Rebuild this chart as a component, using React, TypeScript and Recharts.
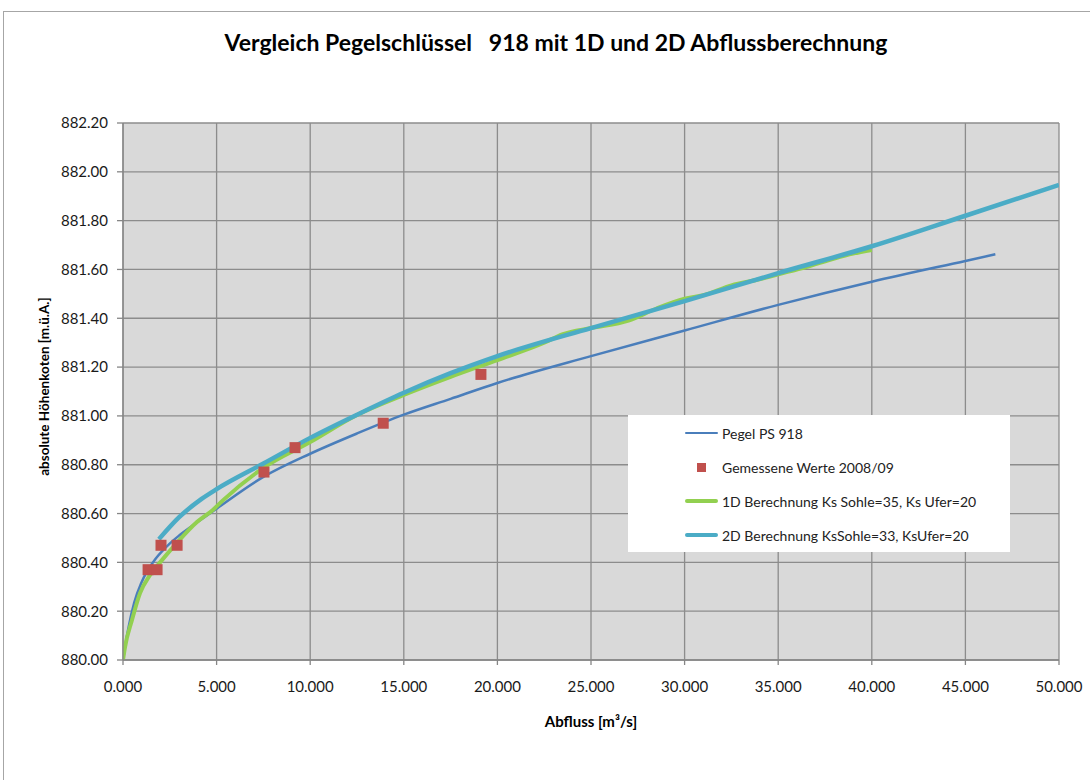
import React from 'react';
import {
  ComposedChart,
  Line,
  Scatter,
  XAxis,
  YAxis,
  CartesianGrid,
  Legend,
} from 'recharts';

// Pegel PS 918 (Abfluss in m³/s, Höhe in m ü. A.)
const pegelQ = [0, 100, 300, 600, 1000, 1600, 2400, 3000, 3700, 5000, 7500, 10000, 12500, 15000, 17500, 20000, 25000, 30000, 35000, 40000, 45000, 46600];
const pegelH = [880.0, 880.05, 880.135, 880.235, 880.32, 880.4, 880.47, 880.51, 880.55, 880.62, 880.75, 880.845, 880.928, 881.005, 881.07, 881.135, 881.245, 881.35, 881.455, 881.55, 881.635, 881.662];

// Gemessene Werte 2008/09
const messQ = [1340, 1820, 2030, 2890, 7530, 9190, 13900, 19120];
const messH = [880.37, 880.37, 880.47, 880.47, 880.77, 880.87, 880.97, 881.17];

// 1D Berechnung
const oneDQ = [0, 100, 480, 910, 1440, 1980, 2880, 3950, 4800, 5350, 7500, 10000, 12500, 15000, 17500, 20000, 22500, 23500, 25000, 27000, 28500, 30000, 31000, 32500, 34000, 35000, 36500, 38000, 39000, 40000];
const oneDH = [880.0, 880.05, 880.164, 880.274, 880.348, 880.4, 880.48, 880.565, 880.615, 880.655, 880.787, 880.893, 881.004, 881.086, 881.16, 881.229, 881.3, 881.335, 881.36, 881.39, 881.44, 881.48, 881.495, 881.535, 881.56, 881.58, 881.61, 881.645, 881.665, 881.68];

// 2D Berechnung
const twoDQ = [1920, 3000, 4200, 5000, 7500, 10000, 12500, 15000, 17500, 20000, 25000, 30000, 35000, 40000, 45000, 50000];
const twoDH = [880.495, 880.585, 880.66, 880.7, 880.805, 880.91, 881.005, 881.095, 881.175, 881.245, 881.36, 881.47, 881.585, 881.695, 881.82, 881.946];

const xTicks = [0, 5000, 10000, 15000, 20000, 25000, 30000, 35000, 40000, 45000, 50000];
const yTicks = [880.0, 880.2, 880.4, 880.6, 880.8, 881.0, 881.2, 881.4, 881.6, 881.8, 882.0, 882.2];

const seriesNames = [
  'Pegel PS 918',
  'Gemessene Werte 2008/09',
  '1D Berechnung Ks Sohle=35, Ks Ufer=20',
  '2D Berechnung KsSohle=33, KsUfer=20',
];
const seriesColors = ['#4a7ebb', '#c0504d', '#92d050', '#4bacc6'];

const toRows = (qs: number[], hs: number[]) => qs.map((q, i) => ({ q, h: hs[i] }));

const pegelData = toRows(pegelQ, pegelH);
const messData = toRows(messQ, messH);
const oneDData = toRows(oneDQ, oneDH);
const twoDData = toRows(twoDQ, twoDH);

const FONT = 'Lato, "Open Sans", sans-serif';
const tickStyle = { fontSize: 15, fill: '#1a1a1a', fontFamily: FONT };

const SquareDot = (props: any) => {
  const { cx, cy } = props;
  if (cx == null || cy == null) return null;
  return <rect x={cx - 5.5} y={cy - 5.5} width={11} height={11} fill="#c0504d" />;
};

const legendWidths = [2.5, 0, 4, 4.5];

function LegendBox() {
  return (
    <div
      style={{
        width: 382,
        height: 137,
        background: '#fff',
        fontFamily: FONT,
        fontSize: 14,
        color: '#222',
        paddingTop: 1,
        boxSizing: 'border-box',
      }}
    >
      {seriesNames.map((name, i) => (
        <div key={name} style={{ height: 34, display: 'flex', alignItems: 'center', paddingLeft: 57 }}>
          <div style={{ width: 33, display: 'flex', justifyContent: 'center', alignItems: 'center' }}>
            {i === 1 ? (
              <div style={{ width: 9, height: 9, background: seriesColors[i] }} />
            ) : (
              <div style={{ width: 33, height: legendWidths[i], background: seriesColors[i], borderRadius: 2 }} />
            )}
          </div>
          <span style={{ marginLeft: 4, whiteSpace: 'pre' }}>{name}</span>
        </div>
      ))}
    </div>
  );
}

export default function App() {
  return (
    <div style={{ position: 'fixed', inset: 0, background: '#fff', overflow: 'hidden' }}>
      <div
        style={{
          position: 'absolute',
          left: 3,
          top: 11,
          width: 1120,
          height: 820,
          border: '1.5px solid #a6a6a6',
        }}
      />
      <div style={{ position: 'absolute', left: 0, top: 0, width: 1090, height: 780 }}>
        <div
          style={{
            position: 'absolute',
            left: 3,
            top: 28,
            width: 1106,
            textAlign: 'center',
            fontFamily: FONT,
            fontWeight: 700,
            fontSize: 23,
            color: '#000',
            whiteSpace: 'pre',
          }}
        >
          {'Vergleich Pegelschlüssel   918 mit 1D und 2D Abflussberechnung'}
        </div>
        <ComposedChart width={1090} height={780} margin={{ top: 123, right: 31, bottom: 50, left: 63 }}>
          <CartesianGrid
            fill="#d9d9d9"
            fillOpacity={1}
            stroke="#8c8c8c"
            strokeWidth={1.3}
            horizontalValues={yTicks}
            verticalValues={xTicks}
          />
          <XAxis
            type="number"
            dataKey="q"
            domain={[0, 50000]}
            ticks={xTicks}
            allowDataOverflow
            tickFormatter={(v: number) => (v / 1000).toFixed(3)}
            tick={tickStyle}
            tickSize={5}
            tickMargin={16}
            height={70}
            axisLine={{ stroke: '#868686', strokeWidth: 1.3 }}
            tickLine={{ stroke: '#868686', strokeWidth: 1.3 }}
            label={{
              content: ({ viewBox }: any) => (
                <text
                  x={viewBox.x + viewBox.width / 2}
                  y={viewBox.y + 67}
                  textAnchor="middle"
                  fontFamily={FONT}
                  fontWeight={700}
                  fontSize={15}
                  fill="#000"
                >
                  Abfluss [m³/s]
                </text>
              ),
            }}
          />
          <YAxis
            type="number"
            domain={[880, 882.2]}
            ticks={yTicks}
            allowDataOverflow
            tickFormatter={(v: number) => v.toFixed(2)}
            tick={tickStyle}
            tickSize={6}
            tickMargin={9}
            width={60}
            axisLine={{ stroke: '#868686', strokeWidth: 1.3 }}
            tickLine={{ stroke: '#868686', strokeWidth: 1.3 }}
            label={{
              content: ({ viewBox }: any) => {
                const cx = viewBox.x - 19;
                const cy = viewBox.y + viewBox.height / 2 - 5;
                return (
                  <text
                    x={cx}
                    y={cy}
                    transform={`rotate(-90, ${cx}, ${cy})`}
                    textAnchor="middle"
                    dominantBaseline="central"
                    fontFamily={FONT}
                    fontWeight={700}
                    fontSize={13.5}
                    fill="#000"
                  >
                    absolute Höhenkoten [m.ü.A.]
                  </text>
                );
              },
            }}
          />
          <Legend
            layout="vertical"
            align="center"
            verticalAlign="middle"
            wrapperStyle={{ left: 628, top: 415, width: 382, height: 137, bottom: 'auto', right: 'auto' }}
            content={() => <LegendBox />}
          />
          <Line
            name={seriesNames[0]}
            data={pegelData}
            dataKey="h"
            type="monotone"
            stroke={seriesColors[0]}
            strokeWidth={2.5}
            dot={false}
            activeDot={false}
            isAnimationActive={false}
          />
          <Line
            name={seriesNames[2]}
            data={oneDData}
            dataKey="h"
            type="monotone"
            stroke={seriesColors[2]}
            strokeWidth={4}
            dot={false}
            activeDot={false}
            isAnimationActive={false}
          />
          <Line
            name={seriesNames[3]}
            data={twoDData}
            dataKey="h"
            type="monotone"
            stroke={seriesColors[3]}
            strokeWidth={4.5}
            dot={false}
            activeDot={false}
            isAnimationActive={false}
          />
          <Scatter
            name={seriesNames[1]}
            data={messData}
            dataKey="h"
            fill={seriesColors[1]}
            shape={SquareDot}
            isAnimationActive={false}
          />
        </ComposedChart>
      </div>
    </div>
  );
}
